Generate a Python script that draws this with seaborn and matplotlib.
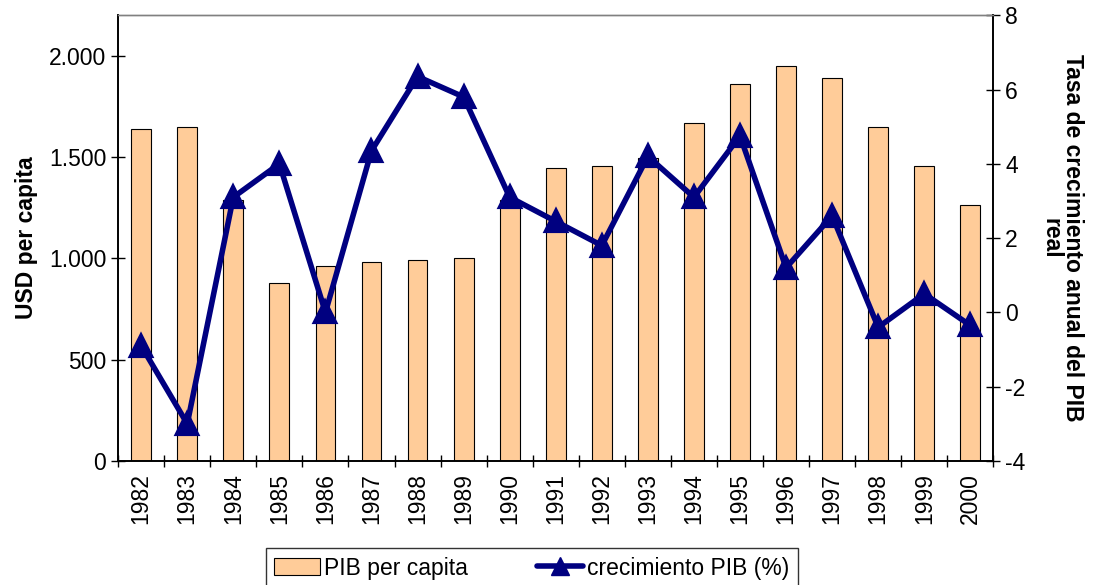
import matplotlib
matplotlib.use("Agg")
import matplotlib.pyplot as plt
import seaborn as sns
import pandas as pd
from matplotlib.ticker import FuncFormatter, FixedLocator

# Data
years = ["1982", "1983", "1984", "1985", "1986", "1987", "1988", "1989", "1990", "1991",
         "1992", "1993", "1994", "1995", "1996", "1997", "1998", "1999", "2000"]
pib_per_capita = [1640, 1650, 1290, 880, 960, 980, 990, 1000, 1290, 1445,
                  1455, 1495, 1670, 1860, 1950, 1890, 1650, 1455, 1265]
crecimiento = [-0.9, -3.0, 3.1, 4.0, 0.0, 4.35, 6.35, 5.8, 3.1, 2.45,
               1.8, 4.2, 3.1, 4.75, 1.2, 2.6, -0.4, 0.5, -0.35]

bar_color = "#FFCC99"
line_color = "#000080"

sns.set_theme(style="white")
plt.rcParams['font.family'] = ['Liberation Sans', 'DejaVu Sans']
plt.rcParams['axes.unicode_minus'] = False
for key in ("text.color", "axes.labelcolor", "xtick.color", "ytick.color"):
    plt.rcParams[key] = "black"

df = pd.DataFrame({"year": years, "pib": pib_per_capita, "growth": crecimiento})

fig = plt.figure(figsize=(10.94, 5.85), dpi=100)
ax = fig.add_axes([0.108, 0.212, 0.800, 0.762])

sns.barplot(data=df, x="year", y="pib", ax=ax, color=bar_color, width=0.43,
            edgecolor="black", linewidth=0.8, saturation=1)
ax.set_ylim(0, 2200)
ax.set_yticks([0, 500, 1000, 1500, 2000])
ax.yaxis.set_major_formatter(FuncFormatter(lambda v, p: f"{int(v):,}".replace(",", ".")))
ax.set_ylabel("USD per capita", fontsize=16.5, fontweight="bold", labelpad=8)
ax.set_xlabel("")

ax2 = ax.twinx()
sns.pointplot(data=df, x="year", y="growth", ax=ax2, color=line_color, markers="^",
              markersize=15, linewidth=4)
ax2.set_ylim(-4, 8)
ax2.set_yticks(range(-4, 9, 2))
ax2.set_ylabel("Tasa de crecimiento anual del PIB\nreal", fontsize=16.5, fontweight="bold",
               rotation=-90, labelpad=42, linespacing=0.9)
ax2.set_xlabel("")

ax.set_xlim(-0.5, len(years) - 0.5)
ax2.set_xlim(-0.5, len(years) - 0.5)

# category labels in the middle, tick marks at the boundaries
ax.xaxis.set_minor_locator(FixedLocator([i - 0.5 for i in range(len(years) + 1)]))
ax.tick_params(axis="x", which="major", length=0, labelsize=16.5, labelrotation=90, pad=9)
ax.tick_params(axis="x", which="minor", length=8, width=1, direction="inout", color="black", bottom=True)
ax.tick_params(axis="y", length=10, width=1, direction="inout", labelsize=16.5, left=True, color="black")
ax2.tick_params(axis="y", length=10, width=1, direction="inout", labelsize=16.5, right=True, color="black")

for a in (ax, ax2):
    for side in ("left", "bottom", "right"):
        a.spines[side].set_color("black")
        a.spines[side].set_linewidth(1.2)
    a.spines["top"].set_color("#808080")
    a.spines["top"].set_linewidth(1)

handles = [
    plt.Rectangle((0, 0), 1, 1, facecolor=bar_color, edgecolor="black", linewidth=0.8, label="PIB per capita"),
    plt.Line2D([0], [0], color=line_color, linewidth=4, marker="^", markersize=13, label="crecimiento PIB (%)"),
]
fig.legend(handles=handles, loc="upper center", bbox_to_anchor=(0.486, 0.082), ncol=2,
           frameon=True, fancybox=False, edgecolor="black", fontsize=16.5,
           handlelength=2.0, handletextpad=0.2, columnspacing=3.0, borderpad=0.35)

fig.savefig("out.png", dpi=100)
